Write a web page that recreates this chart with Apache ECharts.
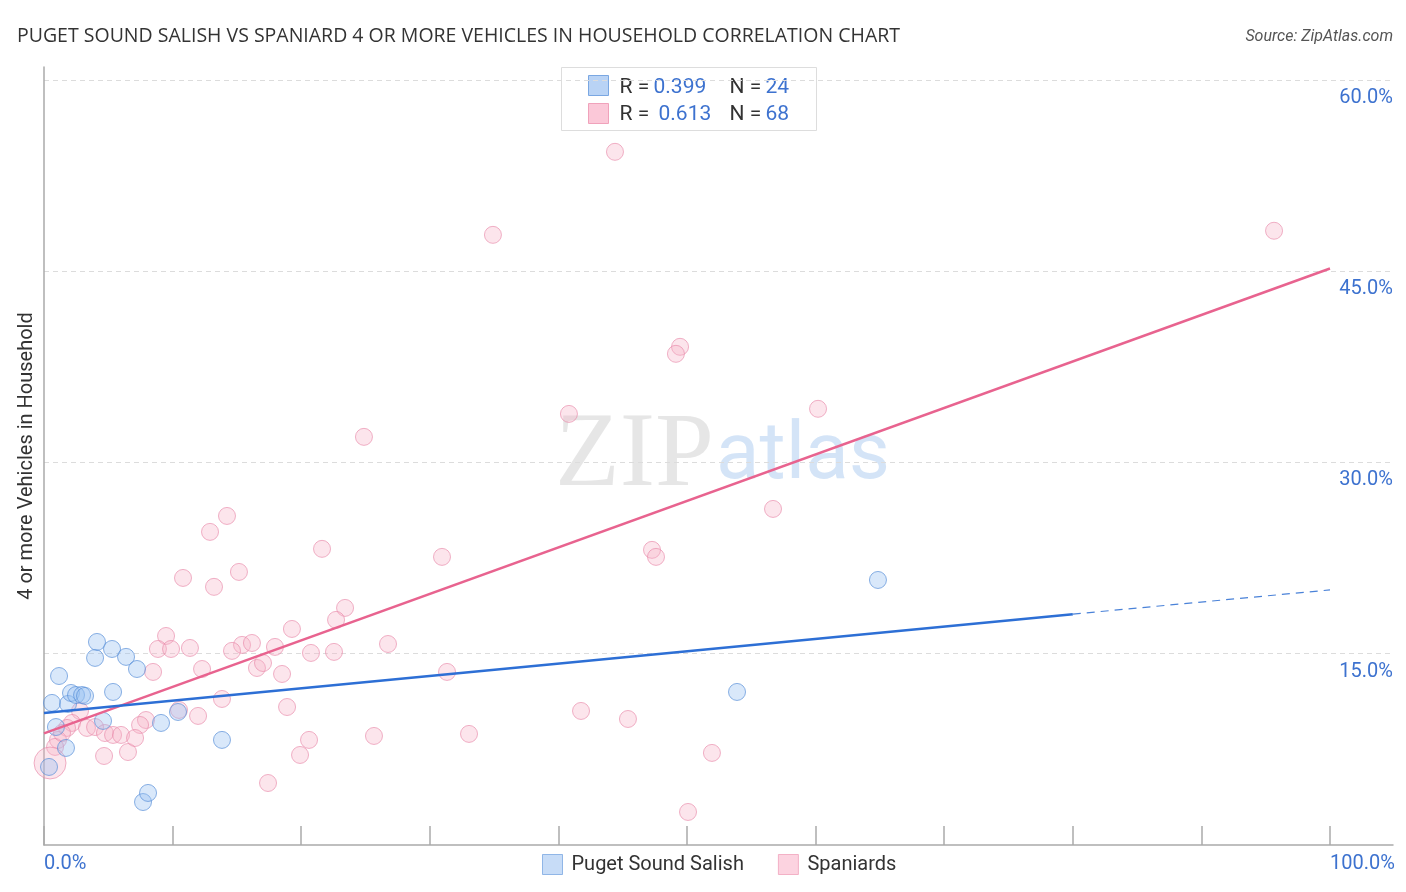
<!DOCTYPE html>
<html>
<head>
<meta charset="utf-8">
<script src="https://cdn.jsdelivr.net/npm/echarts@6/dist/echarts.min.js"></script>
<style>
html,body{margin:0;padding:0;background:#fff;}
#chart{width:1406px;height:892px;}
</style>
</head>
<body>
<div id="chart"></div>
<script>
// ---- data ----
const seriesNames = ['Puget Sound Salish', 'Spaniards'];
const salish = [
  [0.39,6.12],[0.62,11.14],[0.93,9.25],[1.17,13.25],[1.71,7.61],[1.87,11.06],
  [2.10,11.92],[2.49,11.76],[2.96,11.76],[3.19,11.69],[3.97,14.67],[4.12,15.92],
  [4.59,9.73],[5.29,15.37],[5.37,12.00],[6.38,14.75],[7.23,13.80],[7.70,3.37],
  [8.09,4.08],[9.10,9.57],[10.42,10.43],[13.84,8.24],[53.89,12.00],[64.85,20.78]
];
const spaniards = [
  [44.40,54.35],[34.91,47.84],[95.65,48.16],[49.46,39.06],[49.14,38.51],[40.82,33.80],
  [60.19,34.20],[24.88,32.00],[14.23,25.80],[12.91,24.55],[56.69,26.35],[21.62,23.22],
  [30.95,22.59],[47.28,23.14],[47.59,22.59],[10.81,20.94],[15.16,21.41],[13.22,20.24],
  [23.41,18.59],[22.71,17.65],[19.28,16.94],[9.49,16.39],[8.86,15.37],[9.88,15.37],
  [11.35,15.45],[15.40,15.69],[16.17,15.84],[14.62,15.22],[17.96,15.53],[20.76,15.06],
  [22.55,15.14],[26.75,15.76],[8.48,13.57],[12.29,13.80],[16.56,13.88],[17.03,14.27],
  [18.51,13.41],[31.34,13.57],[13.84,11.45],[18.90,10.82],[10.50,10.59],[11.98,10.12],
  [41.76,10.51],[45.41,9.88],[7.93,9.80],[7.47,9.41],[20.61,8.24],[25.66,8.55],
  [33.05,8.71],[4.67,6.98],[6.53,7.29],[19.91,7.06],[51.94,7.22],[17.42,4.86],
  [50.08,2.59],[2.80,10.51],[2.18,9.57],[3.34,9.18],[3.97,9.25],[1.79,9.18],
  [4.74,8.78],[5.37,8.63],[5.99,8.63],[7.08,8.39],[1.09,8.24],[0.86,7.69],
  [0.47,6.43],[1.40,8.78]
];
const largePointIndex = 66; // the one larger Spaniards marker
const salishTrendSolid = [[0,10.35],[80,18.1]];
const salishTrendDashed = [[80,18.1],[100,20.0]];
const spaniardsTrend = [[0,8.75],[100,45.2]];
const xTickValues = [0,10,20,30,40,50,60,70,80,90,100];
const xLabelValues = [0,100];
const yTickValues = [15,30,45,60];
const statsR = ['0.399','0.613'];
const statsN = ['24','68'];
const titleText = 'PUGET SOUND SALISH VS SPANIARD 4 OR MORE VEHICLES IN HOUSEHOLD CORRELATION CHART';
const sourceText = 'Source: ZipAtlas.com';
const yAxisTitle = '4 or more Vehicles in Household';

// ---- styles ----
const BLUE_FILL = 'rgba(150,190,240,0.45)';
const BLUE_STROKE = 'rgba(85,140,215,0.85)';
const PINK_FILL = 'rgba(247,178,200,0.42)';
const PINK_STROKE = 'rgba(232,135,168,0.8)';
const LABEL_BLUE = '#3d72cf';
const FONT = 'Roboto, "Noto Sans", sans-serif';

const chart = echarts.init(document.getElementById('chart'));

const spaniardsData = spaniards.map((p, i) => i === largePointIndex ? {value: p, symbolSize: 32} : {value: p});

const option = {
  animation: false,
  backgroundColor: '#fff',
  title: [
    {text: titleText, left: 12, top: 21, textStyle: {fontFamily: '"Open Sans", Roboto, sans-serif', fontSize: 19.5, fontWeight: 'normal', color: '#333'}},
    {text: sourceText, right: 8, top: 24, textStyle: {fontFamily: FONT, fontSize: 16, fontWeight: 'normal', fontStyle: 'italic', color: '#555'}}
  ],
  grid: {left: 44, right: 13, top: 67, bottom: 47, containLabel: false},
  legend: {
    bottom: 12, left: 537, itemWidth: 20, itemGap: 34, itemHeight: 20,
    textStyle: {fontFamily: FONT, fontSize: 20, color: '#333', padding: [0,0,0,4]},
    data: [
      {name: seriesNames[0], icon: 'rect', itemStyle: {color: '#b9d3f5', borderColor: '#7aa7e2', borderWidth: 1}},
      {name: seriesNames[1], icon: 'rect', itemStyle: {color: '#fbc8d8', borderColor: '#f0a2bb', borderWidth: 1}}
    ]
  },
  xAxis: {
    type: 'value', min: 0, max: 104.9,
    axisLine: {show: true, lineStyle: {color: '#aaa', width: 1.5}},
    axisTick: {show: true, inside: true, length: 19, customValues: xTickValues, lineStyle: {color: '#aaa', width: 1.5}},
    axisLabel: {show: true, customValues: xLabelValues, align: 'left', margin: 9, fontFamily: FONT, fontSize: 20, color: LABEL_BLUE,
      formatter: v => v.toFixed(1) + '%'},
    splitLine: {show: false}
  },
  yAxis: [
    {
      type: 'value', min: 0, max: 61, position: 'left',
      name: yAxisTitle, nameLocation: 'middle', nameGap: 7, nameRotate: 90,
      nameTextStyle: {fontFamily: FONT, fontSize: 20, color: '#333'},
      axisLine: {show: true, lineStyle: {color: '#aaa', width: 1.5}},
      axisTick: {show: false}, axisLabel: {show: false}, splitLine: {show: false}
    },
    {
      type: 'value', min: 0, max: 61, position: 'right',
      axisLine: {show: false}, axisTick: {show: false},
      axisLabel: {show: true, inside: true, customValues: yTickValues, margin: 0, verticalAlign: 'top', padding: [8,0,0,0],
        fontFamily: FONT, fontSize: 20, color: LABEL_BLUE, formatter: v => v.toFixed(1) + '%'},
      splitLine: {show: true, showMinLine: false, showMaxLine: false, lineStyle: {color: '#dcdcdc', type: [5,4], width: 1}},
      interval: 15
    }
  ],
  graphic: [
    // watermark
    {type: 'text', left: 555, top: 404, z: 0, silent: true,
      style: {text: 'ZIP', font: '106px "Liberation Serif", "DejaVu Serif", serif', fill: 'rgba(200,200,200,0.45)'}},
    {type: 'text', left: 716, top: 418, z: 0, silent: true,
      style: {text: 'atlas', font: '80px Roboto, "Noto Sans", sans-serif', fill: 'rgba(160,195,238,0.45)'}},
    // stats box
    {type: 'group', left: 561, top: 67, z: 100, children: [
      {type: 'rect', shape: {x: 0, y: 0, width: 255, height: 63}, style: {fill: '#fff', stroke: '#ddd', lineWidth: 1}},
      {type: 'rect', shape: {x: 27, y: 8, width: 20, height: 20}, style: {fill: '#b9d3f5', stroke: '#7aa7e2', lineWidth: 1}},
      {type: 'rect', shape: {x: 27, y: 36, width: 20, height: 20}, style: {fill: '#fbc8d8', stroke: '#f0a2bb', lineWidth: 1}},
      {type: 'text', x: 58, y: 20, style: {text: 'R =', font: '21px ' + FONT, fill: '#333', verticalAlign: 'middle'}},
      {type: 'text', x: 92, y: 20, style: {text: statsR[0], font: '21px ' + FONT, fill: LABEL_BLUE, verticalAlign: 'middle'}},
      {type: 'text', x: 168, y: 20, style: {text: 'N =', font: '21px ' + FONT, fill: '#333', verticalAlign: 'middle'}},
      {type: 'text', x: 204, y: 20, style: {text: statsN[0], font: '21px ' + FONT, fill: LABEL_BLUE, verticalAlign: 'middle'}},
      {type: 'text', x: 58, y: 47, style: {text: 'R =', font: '21px ' + FONT, fill: '#333', verticalAlign: 'middle'}},
      {type: 'text', x: 97, y: 47, style: {text: statsR[1], font: '21px ' + FONT, fill: LABEL_BLUE, verticalAlign: 'middle'}},
      {type: 'text', x: 168, y: 47, style: {text: 'N =', font: '21px ' + FONT, fill: '#333', verticalAlign: 'middle'}},
      {type: 'text', x: 204, y: 47, style: {text: statsN[1], font: '21px ' + FONT, fill: LABEL_BLUE, verticalAlign: 'middle'}}
    ]}
  ],
  series: [
    {
      name: seriesNames[1], type: 'scatter', data: spaniardsData, symbolSize: 17, z: 2,
      itemStyle: {color: PINK_FILL, borderColor: PINK_STROKE, borderWidth: 1}
    },
    {
      name: seriesNames[0], type: 'scatter', data: salish, symbolSize: 17, z: 3,
      itemStyle: {color: BLUE_FILL, borderColor: BLUE_STROKE, borderWidth: 1}
    },
    {
      type: 'line', data: spaniardsTrend, symbol: 'none', z: 5, silent: true,
      lineStyle: {color: '#e8638f', width: 2.5}
    },
    {
      type: 'line', data: salishTrendSolid, symbol: 'none', z: 5, silent: true,
      lineStyle: {color: '#2d6fd5', width: 2.5}
    },
    {
      type: 'line', data: salishTrendDashed, symbol: 'none', z: 5, silent: true,
      lineStyle: {color: '#4a82d8', width: 1.2, type: [8,6]}
    }
  ]
};
chart.setOption(option);
</script>
</body>
</html>
